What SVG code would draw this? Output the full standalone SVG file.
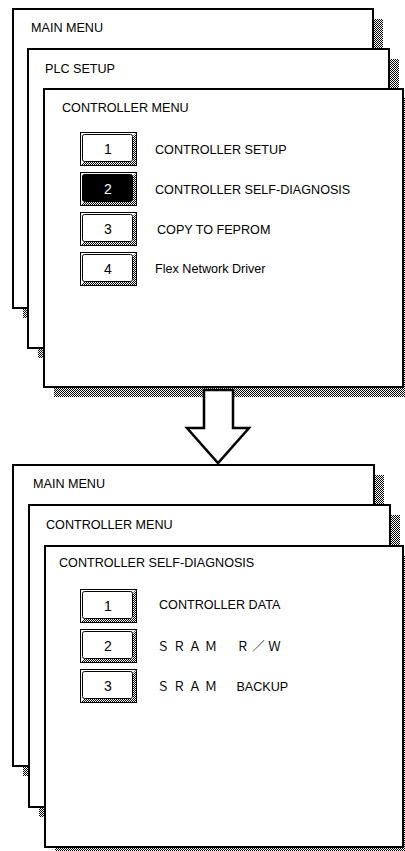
<svg xmlns="http://www.w3.org/2000/svg" width="405" height="851" viewBox="0 0 405 851">
<style>
.win{fill:#fff;stroke:#000;stroke-width:2}
.sh{fill:url(#dither)}
.t{font-family:"Liberation Sans",Arial,sans-serif;font-size:12.6px;fill:#000}
.num{font-family:"Liberation Sans",Arial,sans-serif;font-size:14px;text-anchor:middle;fill:#000}
.numw{fill:#fff}
.bo{fill:#fff;stroke:#000;stroke-width:1}
.bi{fill:#fff;stroke:#000;stroke-width:1}
.bisel{fill:#000;stroke:#000;stroke-width:1}
.fw{font-family:"Noto Sans CJK JP","Liberation Sans",sans-serif;font-size:12.4px;letter-spacing:3.5px;fill:#000}
.arrow{fill:#fff;stroke:#000;stroke-width:2.5;stroke-linejoin:miter}
</style>
<defs>
<pattern id="dither" width="2" height="2" patternUnits="userSpaceOnUse">
<rect width="2" height="2" fill="#fff"/>
<rect width="1" height="1" fill="#000"/>
<rect x="1" y="1" width="1" height="1" fill="#000"/>
</pattern>
<g id="btn">
<rect class="bo" x="0.5" y="0.5" width="56" height="33"/>
<polygon class="sh" points="56,1 56,33 1,33 4,30 53,30 53,4"/>
<rect class="bo" x="0.5" y="0.5" width="56" height="33" style="fill:none"/>
</g>
</defs>
<rect width="405" height="851" fill="#fff"/>

<g id="top-main-menu">
<rect class="sh" x="23" y="19" width="360" height="299"/>
<rect class="win" x="13" y="9" width="360" height="299"/>
<text class="t" x="31" y="32">MAIN MENU</text>
</g>
<g id="top-plc-setup">
<rect class="sh" x="38" y="59" width="361" height="299"/>
<rect class="win" x="28" y="49" width="361" height="299"/>
<text class="t" x="45" y="72.5">PLC SETUP</text>
</g>
<g id="top-controller-menu">
<rect class="sh" x="54" y="98" width="360" height="299"/>
<rect class="win" x="44" y="89" width="359" height="298"/>
<text class="t" x="62" y="112">CONTROLLER MENU</text>
</g>
<g id="top-btn1">
<use href="#btn" x="80" y="132"/>
<rect class="bi" x="82.5" y="134.5" width="50" height="27" rx="2"/>
<text class="num" x="108" y="154">1</text>
<text class="t" x="155" y="154">CONTROLLER SETUP</text>
</g>
<g id="top-btn2">
<use href="#btn" x="80" y="172"/>
<rect class="bisel" x="82.5" y="174.5" width="50" height="27" rx="2"/>
<text class="num numw" x="108" y="194">2</text>
<text class="t" x="155" y="194">CONTROLLER SELF-DIAGNOSIS</text>
</g>
<g id="top-btn3">
<use href="#btn" x="80" y="212"/>
<rect class="bi" x="82.5" y="214.5" width="50" height="27" rx="2"/>
<text class="num" x="108" y="234">3</text>
<text class="t" x="157" y="234">COPY TO FEPROM</text>
</g>
<g id="top-btn4">
<use href="#btn" x="80" y="252"/>
<rect class="bi" x="82.5" y="254.5" width="50" height="27" rx="2"/>
<text class="num" x="108" y="274">4</text>
<text class="t" x="155" y="273">Flex Network Driver</text>
</g>

<g id="bottom-main-menu">
<rect class="sh" x="23" y="475" width="361" height="301"/>
<rect class="win" x="13" y="465" width="361" height="301"/>
<text class="t" x="33" y="488">MAIN MENU</text>
</g>
<g id="bottom-controller-menu">
<rect class="sh" x="39" y="515" width="361" height="302"/>
<rect class="win" x="29" y="505" width="361" height="302"/>
<text class="t" x="46" y="529">CONTROLLER MENU</text>
</g>
<g id="bottom-self-diagnosis">
<rect class="sh" x="55" y="556" width="358" height="301"/>
<rect class="win" x="45" y="546" width="358" height="301"/>
<text class="t" x="59" y="567">CONTROLLER SELF-DIAGNOSIS</text>
</g>
<g id="bottom-btn1">
<use href="#btn" x="80" y="589"/>
<rect class="bi" x="82.5" y="591.5" width="50" height="27" rx="2"/>
<text class="num" x="108" y="611">1</text>
<text class="t" x="159" y="609">CONTROLLER DATA</text>
</g>
<g id="bottom-btn2">
<use href="#btn" x="80" y="629"/>
<rect class="bi" x="82.5" y="631.5" width="50" height="27" rx="2"/>
<text class="num" x="108" y="651">2</text>
<text class="fw" x="157" y="651">ＳＲＡＭ　Ｒ／Ｗ</text>
</g>
<g id="bottom-btn3">
<use href="#btn" x="80" y="669"/>
<rect class="bi" x="82.5" y="671.5" width="50" height="27" rx="2"/>
<text class="num" x="108" y="691">3</text>
<text x="157" y="691"><tspan class="fw">ＳＲＡＭ　</tspan><tspan class="t">BACKUP</tspan></text>
</g>

<g id="connectors">
<polygon class="arrow" points="204,390 233,390 233,428 249,428 218,463 187,428 204,428"/>
</g>
</svg>
